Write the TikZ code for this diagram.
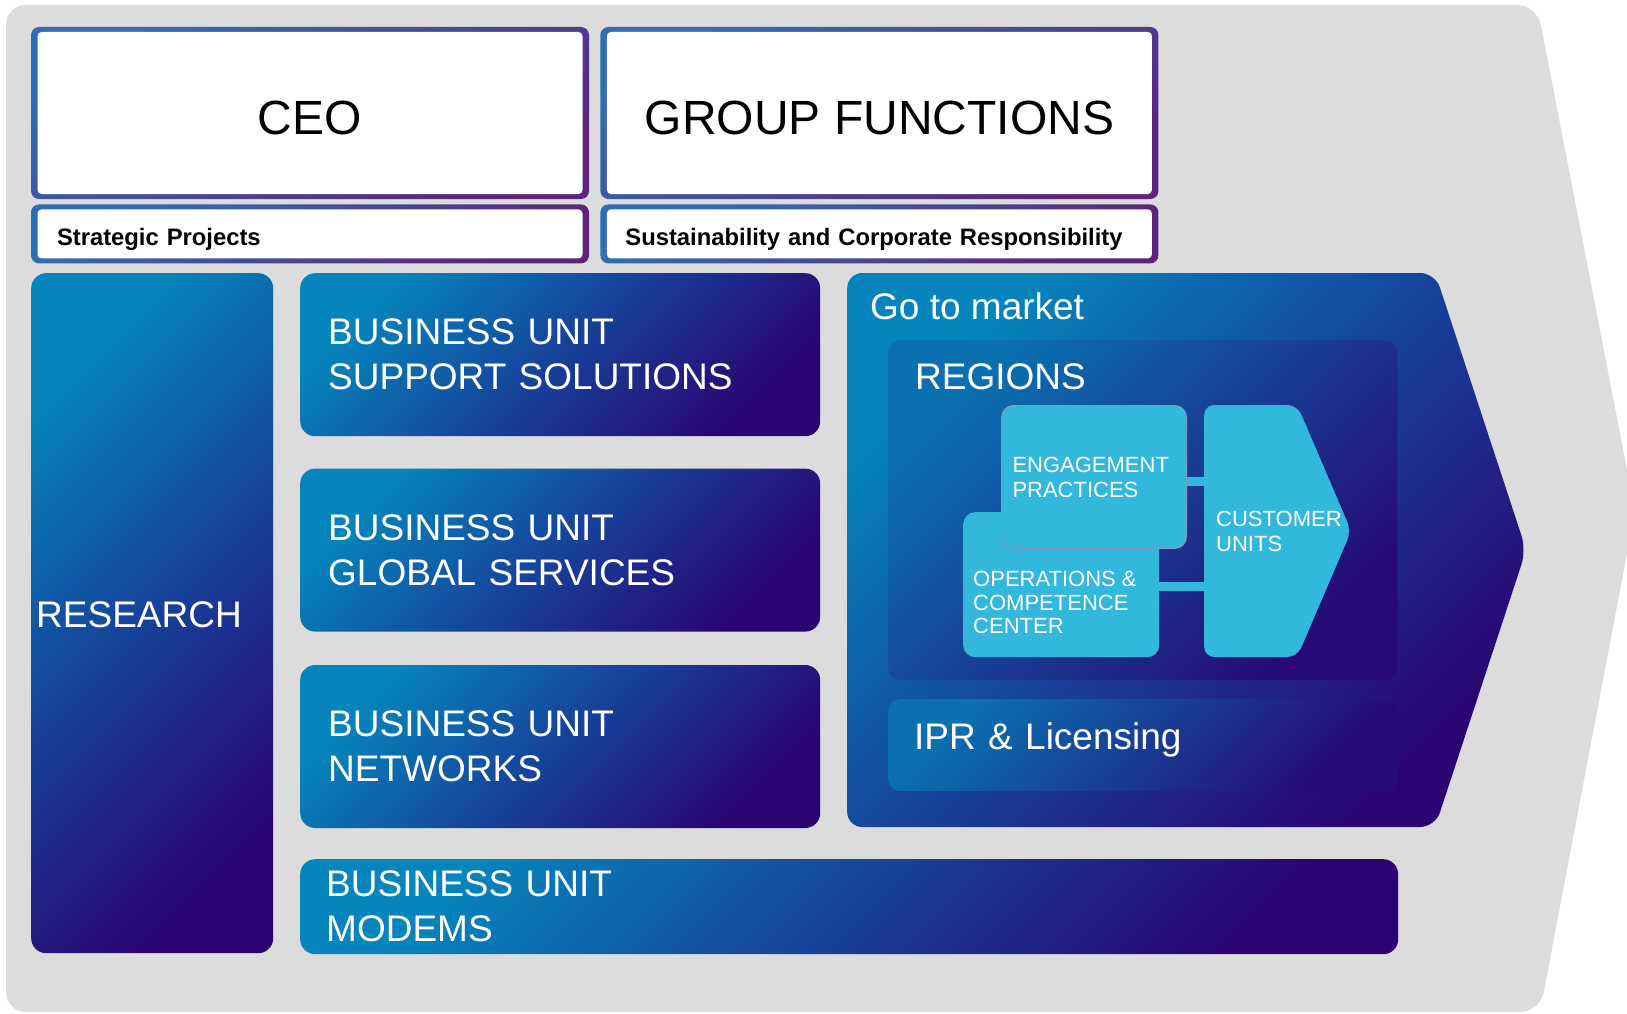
\documentclass[tikz,border=0pt]{standalone}
\usepackage{fontspec}
\setmainfont{Liberation Sans}
\usetikzlibrary{shapes.symbols, positioning, calc}

\definecolor{bggray}{HTML}{DCDCDC}
\definecolor{bulight}{HTML}{0585BB}
\definecolor{bumid}{HTML}{17419A}
\definecolor{budark}{HTML}{2A0572}
\definecolor{framelight}{HTML}{2F6EB5}
\definecolor{framedark}{HTML}{5E2479}
\definecolor{cyanbox}{HTML}{33B8DD}
\definecolor{engline}{HTML}{7E9CC2}
\definecolor{reglight}{HTML}{0A70B0}
\definecolor{regdark}{HTML}{270A76}

\newcommand{\ceofont}{\fontsize{48}{52}\selectfont}
\newcommand{\notefont}{\bfseries\fontsize{23.8}{26}\selectfont}
\newcommand{\unitfont}{\fontsize{37}{45}\selectfont}
\newcommand{\cellfont}{\fontsize{22}{25}\selectfont}

\tikzstyle{every unit} = []
\tikzstyle{every cell} = []
\tikzstyle{headbox} = [rectangle, rounded corners=8pt, inner sep=0pt,
                       top color=framelight, bottom color=framedark, shading angle=30,
                       path picture={\fill[white, rounded corners=4pt]
                         ([shift={(6.5pt,-5pt)}]path picture bounding box.north west) rectangle
                         ([shift={(-6.5pt,5pt)}]path picture bounding box.south east);}]
\tikzstyle{unit} = [rectangle, rounded corners=15pt, inner ysep=0pt,
                    top color=bulight, bottom color=budark, middle color=bumid, shading angle=45,
                    text=white, align=left, font=\unitfont, every unit]
\tikzstyle{cell} = [rectangle, rounded corners=12pt, fill=cyanbox, inner ysep=0pt,
                    text=white, align=left, font=\cellfont, every cell]
\tikzstyle{cellbar} = [cyanbox, line width=9pt]

\begin{document}
\begin{tikzpicture}[x=1pt, y=1pt,
  notebox/.style={headbox, minimum width=558pt, minimum height=59pt, align=left,
                  font=\notefont, text height=23pt, text depth=0pt},
  topbox/.style={headbox, minimum width=558pt, minimum height=172pt,
                 font=\ceofont, text height=44pt, text depth=0pt},
  regionbox/.style={rectangle, rounded corners=12pt, inner sep=0pt,
                    top color=reglight, bottom color=regdark, shading angle=45},
  label text/.style={text=white, font=\unitfont, inner sep=0pt, anchor=base west},
]
  \useasboundingbox (0,0) rectangle (1627,-1014);
  \fill[white] (0,0) rectangle (1627,-1014);
  \clip (0,0) rectangle (1627,-1014);
  % backdrop arrow
  \fill[bggray, rounded corners=20pt] (6,-1012) -- (6,-5) -- (1537,-5) -- (1635,-511) -- (1540,-1012) -- cycle;

  %Top row
  \node[topbox] (ceo) at (310,-113) {CEO};
  \node[topbox, right=11pt of ceo] (groupfn) {GROUP FUNCTIONS};
  \node[notebox, below=5pt of ceo, inner xsep=26pt, text width=506pt] (strategic) {Strategic Projects};
  \node[notebox, below=5pt of groupfn, inner xsep=25pt, text width=508pt] (sustain) {Sustainability and Corporate Responsibility};

  %Research and business units
  \node[unit, anchor=north west, minimum height=680pt, inner xsep=5pt, text width=232pt,
        text height=28pt, text depth=0pt] (research) at (31,-273) {RESEARCH};
  \node[unit, anchor=north west, minimum height=163pt, inner xsep=28pt, text width=464pt] (bussupport) at (300,-273) {BUSINESS UNIT\\SUPPORT SOLUTIONS};
  \node[unit, below=32pt of bussupport, minimum height=163pt, inner xsep=28pt, text width=464pt] (busglobal) {BUSINESS UNIT\\GLOBAL SERVICES};
  \node[unit, below=33pt of busglobal, minimum height=163pt, inner xsep=28pt, text width=464pt] (busnetworks) {BUSINESS UNIT\\NETWORKS};
  \node[unit, anchor=north west, minimum height=95pt, inner xsep=26pt, text width=1046pt] (busmodems) at (300,-859) {BUSINESS UNIT\\MODEMS};

  %Go to market
  \node[unit, shape=signal, signal to=east, signal pointer angle=143.6, inner sep=0pt,
        anchor=west, minimum width=679pt, minimum height=554pt] (market) at (847,-550) {};
  \node[label text] (marketlabel) at (870,-319) {Go to market};
  \node[regionbox, anchor=north west, minimum width=509pt, minimum height=340pt] (regions) at (888,-340) {};
  \node[label text] (regionslabel) at ([shift={(27pt,-49pt)}]regions.north west) {REGIONS};
  \node[regionbox, anchor=north west, minimum width=510pt, minimum height=92pt, inner xsep=26pt,
        text width=458pt, align=left, text=white, font=\unitfont, text height=30pt, text depth=22pt] (ipr) at (888,-699) {IPR \& Licensing};

  %Regions content
  \node[cell, anchor=north west, minimum width=196pt, minimum height=145pt] (ops) at (963,-512) {};
  \node[text=white, font=\fontsize{22}{23.5}\selectfont, align=left, inner sep=0pt, anchor=south west] (opstext)
        at ([shift={(10pt,23pt)}]ops.south west) {OPERATIONS \&\\COMPETENCE\\CENTER};
  \node[cell, draw=engline, line width=1pt, anchor=north west, minimum width=185pt, minimum height=143pt,
        inner xsep=11pt, text width=163pt] (engage) at (1001,-405) {ENGAGEMENT\\PRACTICES};
  \node[cell, shape=signal, signal to=east, signal pointer angle=133.6, rounded corners=10pt,
        anchor=west, minimum width=147pt, minimum height=252pt, inner xsep=12pt, text width=69pt] (customer) at (1204,-531) {CUSTOMER\\UNITS};

  %Lines
  \draw[cellbar] ([yshift=-4pt]engage.east) -- ($(engage.east -| customer.west)+(0,-4)$);
  \draw[cellbar] ([yshift=-2pt]ops.east) -- ($(ops.east -| customer.west)+(0,-2)$);
\end{tikzpicture}
\end{document}
